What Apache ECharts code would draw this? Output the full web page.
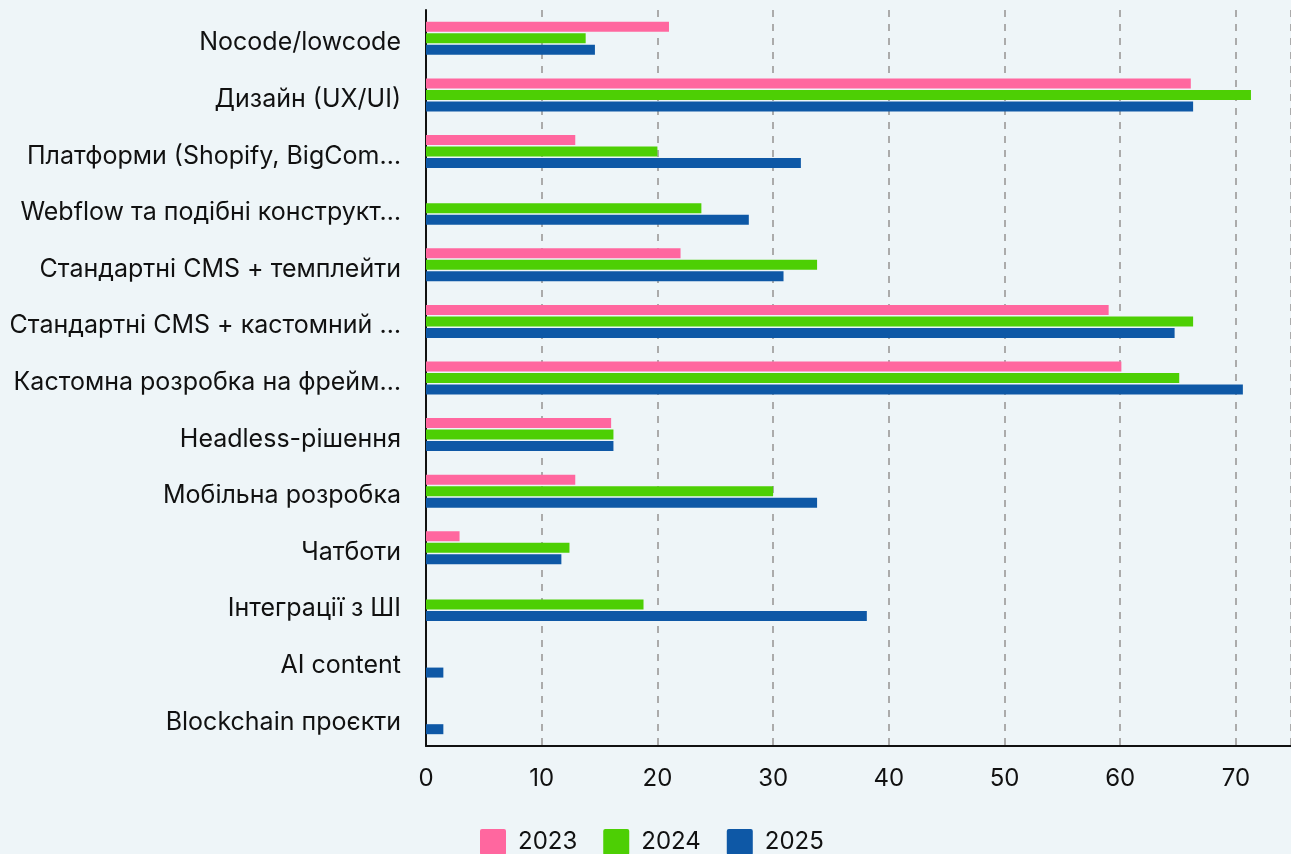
<!DOCTYPE html>
<html>
<head>
<meta charset="utf-8">
<script src="https://cdn.jsdelivr.net/npm/echarts@6/dist/echarts.min.js"></script>
<style>
  html, body { margin: 0; padding: 0; background: #EEF5F8; }
  #chart { width: 1291px; height: 854px; }
</style>
</head>
<body>
<div id="chart"></div>
<script>
// Technology areas (top to bottom)
const categories = [
  'Nocode/lowcode',
  'Дизайн (UX/UI)',
  'Платформи (Shopify, BigCom…',
  'Webflow та подібні конструкт…',
  'Стандартні CMS + темплейти',
  'Стандартні CMS + кастомний …',
  'Кастомна розробка на фрейм…',
  'Headless-рішення',
  'Мобільна розробка',
  'Чатботи',
  'Інтеграції з ШІ',
  'AI content',
  'Blockchain проєкти'
];

const years = ['2023', '2024', '2025'];

const values2023 = [21.0, 66.1, 12.9, 0, 22.0, 59.0, 60.1, 16.0, 12.9, 2.9, 0, 0, 0];
const values2024 = [13.8, 71.3, 20.0, 23.8, 33.8, 66.3, 65.1, 16.2, 30.0, 12.4, 18.8, 0, 0];
const values2025 = [14.6, 66.3, 32.4, 27.9, 30.9, 64.7, 70.6, 16.2, 33.8, 11.7, 38.1, 1.5, 1.5];

const xTicks = [0, 10, 20, 30, 40, 50, 60, 70];

const colors = ['#FF679F', '#4DCF04', '#0E58A6'];
const FONT = 'Inter, "Noto Sans", sans-serif';

// Small-radius square used as the legend marker
const squareIcon = 'path://M2,0 H24 Q26,0 26,2 V24 Q26,26 24,26 H2 Q0,26 0,24 V2 Q0,0 2,0 Z';

const chart = echarts.init(document.getElementById('chart'), null, { renderer: 'canvas' });

const seriesData = [values2023, values2024, values2025];

chart.setOption({
  backgroundColor: '#EEF5F8',
  animation: false,
  color: colors,
  textStyle: { fontFamily: FONT },
  grid: { left: 426, right: 0, top: 10, bottom: 108, containLabel: false },
  legend: {
    data: years,
    left: 480,
    top: 829,
    padding: 0,
    itemWidth: 26,
    itemHeight: 26,
    itemGap: 26,
    icon: squareIcon,
    textStyle: { fontSize: 24, color: '#111', fontFamily: FONT, padding: [4, 0, 0, 7] }
  },
  xAxis: {
    type: 'value',
    min: 0,
    max: 74.76,
    interval: 10,
    axisLine: { show: true, lineStyle: { color: '#111', width: 2 } },
    axisTick: { show: false },
    axisLabel: {
      fontSize: 24,
      color: '#111',
      margin: 21,
      fontFamily: FONT,
      showMaxLabel: false,
      formatter: v => (xTicks.includes(v) ? String(v) : '')
    },
    splitLine: { show: true, lineStyle: { color: '#ABABAB', type: [7, 7], width: 2 } }
  },
  yAxis: {
    type: 'category',
    inverse: true,
    data: categories,
    axisLine: { show: true, lineStyle: { color: '#111', width: 2 } },
    axisTick: { show: false },
    axisLabel: {
      fontSize: 25,
      color: '#111',
      margin: 25,
      fontFamily: FONT,
      verticalAlign: 'top',
      lineHeight: 9
    }
  },
  series: years.map((y, i) => ({
    name: y,
    type: 'bar',
    data: seriesData[i],
    barWidth: 10,
    barGap: '15%',
    itemStyle: { color: colors[i] }
  }))
});
</script>
</body>
</html>
